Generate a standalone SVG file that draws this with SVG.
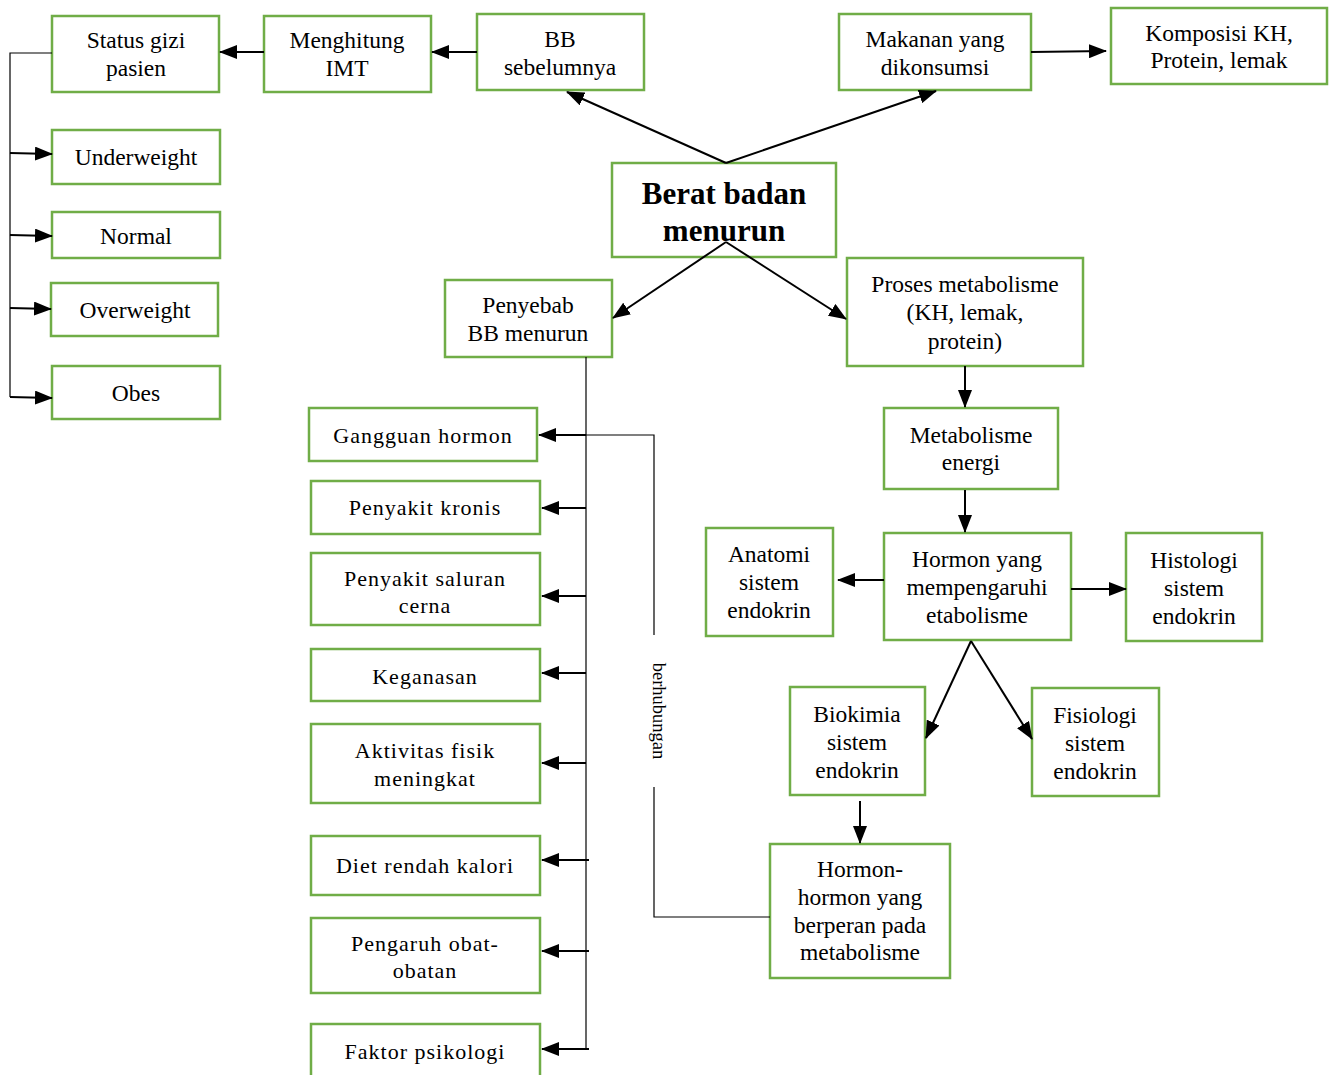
<svg xmlns="http://www.w3.org/2000/svg" width="1330" height="1075" viewBox="0 0 1330 1075">
<style>
.n rect{fill:#fff;stroke:#70ad47;stroke-width:2.5}
.n text{font-family:"Liberation Serif","Times New Roman",serif;font-size:23.5px;fill:#000;text-anchor:middle}
.l text{font-size:22px;letter-spacing:1px}
.b text{font-weight:bold;font-size:31px}
.c{stroke:#000;stroke-width:2;fill:none}
.t{stroke:#000;stroke-width:1.2;fill:none}
.r{font-family:"Liberation Serif","Times New Roman",serif;font-size:18.5px;fill:#000;text-anchor:middle}
</style>
<defs>
<marker id="a" markerUnits="userSpaceOnUse" markerWidth="18" markerHeight="14" viewBox="0 0 18 14" refX="17" refY="7" orient="auto">
<path d="M0,0 L18,7 L0,14 Z" fill="#000"/>
</marker>
</defs>
<g id="status" class="n"><rect x="52" y="16" width="167" height="76"/><text x="136" y="48">Status gizi</text><text x="136" y="76">pasien</text></g>
<g id="imt" class="n"><rect x="264" y="16" width="167" height="76"/><text x="347" y="48">Menghitung</text><text x="347" y="76">IMT</text></g>
<g id="bbseb" class="n"><rect x="477" y="14" width="167" height="76"/><text x="560" y="47">BB</text><text x="560" y="75">sebelumnya</text></g>
<g id="makanan" class="n"><rect x="839" y="14" width="192" height="76"/><text x="935" y="47">Makanan yang</text><text x="935" y="75">dikonsumsi</text></g>
<g id="komposisi" class="n"><rect x="1111" y="8" width="216" height="76"/><text x="1219" y="41">Komposisi KH,</text><text x="1219" y="68">Protein, lemak</text></g>
<g id="berat" class="n b"><rect x="612" y="163" width="224" height="94"/><text x="724" y="204">Berat badan</text><text x="724" y="241">menurun</text></g>
<g id="under" class="n"><rect x="52" y="130" width="168" height="54"/><text x="136" y="165">Underweight</text></g>
<g id="normal" class="n"><rect x="52" y="212" width="168" height="46"/><text x="136" y="244">Normal</text></g>
<g id="over" class="n"><rect x="51" y="283" width="167" height="53"/><text x="135" y="318">Overweight</text></g>
<g id="obes" class="n"><rect x="52" y="366" width="168" height="53"/><text x="136" y="401">Obes</text></g>
<g id="penyebab" class="n"><rect x="445" y="280" width="167" height="77"/><text x="528" y="313">Penyebab</text><text x="528" y="341">BB menurun</text></g>
<g id="proses" class="n"><rect x="847" y="258" width="236" height="108"/><text x="965" y="292">Proses metabolisme</text><text x="965" y="320">(KH, lemak,</text><text x="965" y="349">protein)</text></g>
<g id="metab" class="n"><rect x="884" y="408" width="174" height="81"/><text x="971" y="443">Metabolisme</text><text x="971" y="470">energi</text></g>
<g id="hormon" class="n"><rect x="884" y="533" width="187" height="107"/><text x="977" y="567">Hormon yang</text><text x="977" y="595">mempengaruhi</text><text x="977" y="623">etabolisme</text></g>
<g id="anatomi" class="n"><rect x="706" y="528" width="127" height="108"/><text x="769" y="562">Anatomi</text><text x="769" y="590">sistem</text><text x="769" y="618">endokrin</text></g>
<g id="histologi" class="n"><rect x="1126" y="533" width="136" height="108"/><text x="1194" y="568">Histologi</text><text x="1194" y="596">sistem</text><text x="1194" y="624">endokrin</text></g>
<g id="biokimia" class="n"><rect x="790" y="687" width="135" height="108"/><text x="857" y="722">Biokimia</text><text x="857" y="750">sistem</text><text x="857" y="778">endokrin</text></g>
<g id="fisiologi" class="n"><rect x="1032" y="688" width="127" height="108"/><text x="1095" y="723">Fisiologi</text><text x="1095" y="751">sistem</text><text x="1095" y="779">endokrin</text></g>
<g id="hormon2" class="n"><rect x="770" y="844" width="180" height="134"/><text x="860" y="877">Hormon-</text><text x="860" y="905">hormon yang</text><text x="860" y="933">berperan pada</text><text x="860" y="960">metabolisme</text></g>
<g id="gangguan" class="n l"><rect x="309" y="408" width="228" height="53"/><text x="423" y="443">Gangguan hormon</text></g>
<g id="kronis" class="n l"><rect x="311" y="481" width="229" height="53"/><text x="425" y="515">Penyakit kronis</text></g>
<g id="saluran" class="n l"><rect x="311" y="553" width="229" height="72"/><text x="425" y="586">Penyakit saluran</text><text x="425" y="613">cerna</text></g>
<g id="keganasan" class="n l"><rect x="311" y="649" width="229" height="52"/><text x="425" y="684">Keganasan</text></g>
<g id="aktivitas" class="n l"><rect x="311" y="724" width="229" height="79"/><text x="425" y="758">Aktivitas fisik</text><text x="425" y="786">meningkat</text></g>
<g id="diet" class="n l"><rect x="311" y="836" width="229" height="59"/><text x="425" y="873">Diet rendah kalori</text></g>
<g id="obat" class="n l"><rect x="311" y="918" width="229" height="75"/><text x="425" y="951">Pengaruh obat-</text><text x="425" y="978">obatan</text></g>
<g id="psikologi" class="n l"><rect x="311" y="1024" width="229" height="56"/><text x="425" y="1059">Faktor psikologi</text></g>
<g id="connectors">
<line class="c" x1="264" y1="52" x2="220" y2="52" marker-end="url(#a)"/>
<line class="c" x1="477" y1="52" x2="432" y2="52" marker-end="url(#a)"/>
<line class="c" x1="726" y1="163" x2="567" y2="92" marker-end="url(#a)"/>
<line class="c" x1="726" y1="163" x2="936" y2="91" marker-end="url(#a)"/>
<line class="c" x1="1031" y1="52" x2="1106" y2="51" marker-end="url(#a)"/>
<line class="c" x1="726" y1="242" x2="613" y2="318" marker-end="url(#a)"/>
<line class="c" x1="726" y1="242" x2="846" y2="319" marker-end="url(#a)"/>
<line class="c" x1="965" y1="366" x2="965" y2="407" marker-end="url(#a)"/>
<line class="c" x1="965" y1="490" x2="965" y2="532" marker-end="url(#a)"/>
<line class="c" x1="884" y1="580" x2="838" y2="580" marker-end="url(#a)"/>
<line class="c" x1="1071" y1="589" x2="1126" y2="589" marker-end="url(#a)"/>
<line class="c" x1="971" y1="641" x2="926" y2="738" marker-end="url(#a)"/>
<line class="c" x1="971" y1="641" x2="1032" y2="739" marker-end="url(#a)"/>
<line class="c" x1="860" y1="801" x2="860" y2="843" marker-end="url(#a)"/>
<polyline class="t" points="52,53 10,53 10,397"/>
<line class="c" x1="10" y1="153" x2="52" y2="154" marker-end="url(#a)"/>
<line class="c" x1="10" y1="235" x2="52" y2="236" marker-end="url(#a)"/>
<line class="c" x1="10" y1="308" x2="51" y2="309" marker-end="url(#a)"/>
<line class="c" x1="10" y1="397" x2="52" y2="398" marker-end="url(#a)"/>
<line class="t" x1="586" y1="357" x2="586" y2="1050"/>
<line class="c" x1="586" y1="435" x2="539" y2="435" marker-end="url(#a)"/>
<line class="c" x1="586" y1="508" x2="542" y2="508" marker-end="url(#a)"/>
<line class="c" x1="586" y1="596" x2="542" y2="596" marker-end="url(#a)"/>
<line class="c" x1="586" y1="673" x2="542" y2="673" marker-end="url(#a)"/>
<line class="c" x1="586" y1="763" x2="542" y2="763" marker-end="url(#a)"/>
<line class="c" x1="589" y1="860" x2="542" y2="860" marker-end="url(#a)"/>
<line class="c" x1="589" y1="951" x2="542" y2="951" marker-end="url(#a)"/>
<line class="c" x1="589" y1="1049" x2="542" y2="1049" marker-end="url(#a)"/>
<polyline class="t" points="586,435 654,435 654,635"/>
<polyline class="t" points="654,787 654,917 770,917"/>
<text class="r" x="657" y="711" transform="rotate(90 657 711)" dominant-baseline="middle">berhubungan</text>
</g>
</svg>
